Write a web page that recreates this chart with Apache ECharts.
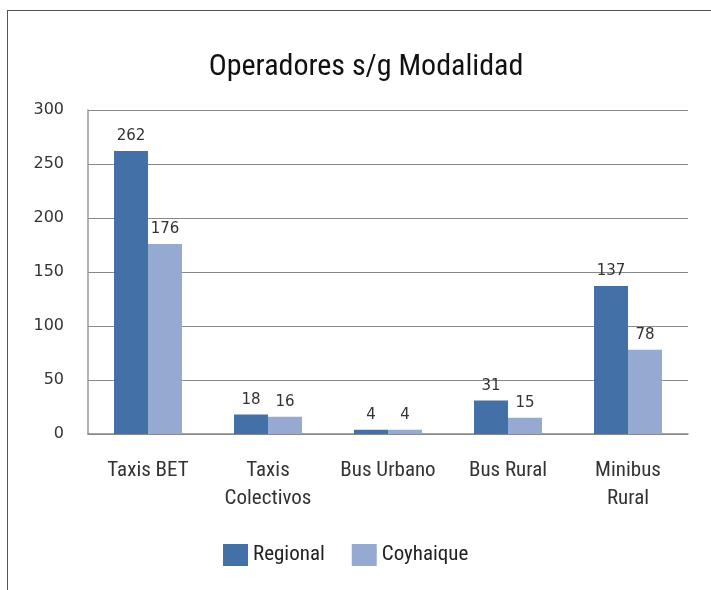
<!DOCTYPE html>
<html>
<head>
<meta charset="utf-8">
<script src="https://cdn.jsdelivr.net/npm/echarts@6/dist/echarts.min.js"></script>
<style>
    html, body { margin: 0; padding: 0; background: #fff; }
    .frame {
        position: absolute; left: 7px; top: 10px; width: 720px; height: 600px;
        border-left: 1px solid #555; border-top: 1px solid #555;
    }
    #chart { position: absolute; left: 0; top: 0; width: 711px; height: 590px; }
</style>
</head>
<body>
<div class="frame"></div>
<div id="chart"></div>
<script>
    var categories = ['Taxis BET', 'Taxis\nColectivos', 'Bus Urbano', 'Bus Rural', 'Minibus\nRural'];
    var regional = [262, 18, 4, 31, 137];
    var coyhaique = [176, 16, 4, 15, 78];
    var yTicks = [0, 50, 100, 150, 200, 250, 300];

    // condensed face, closest to the original's narrow font
    var narrow = 'Roboto Condensed, sans-serif';
    var chart = echarts.init(document.getElementById('chart'));
    var labelStyle = {
        show: true,
        position: 'top',
        fontFamily: 'DejaVu Sans',
        fontSize: 15,
        color: '#333',
        distance: 7
    };
    chart.setOption({
        animation: false,
        title: {
            text: 'Operadores s/g Modalidad',
            left: 361,
            top: 47,
            textAlign: 'center',
            textStyle: {
                fontFamily: narrow,
                fontWeight: 'normal',
                fontSize: 30,
                color: '#111'
            }
        },
        legend: {
            bottom: 19,
            left: 218,
            itemWidth: 25,
            itemHeight: 22,
            itemGap: 27,
            icon: 'rect',
            textStyle: {
                fontFamily: narrow,
                fontSize: 21,
                color: '#222'
            },
            data: ['Regional', 'Coyhaique']
        },
        grid: { left: 88, right: 23, top: 110, bottom: 156 },
        xAxis: {
            type: 'category',
            data: categories,
            axisTick: { show: false },
            axisLine: { lineStyle: { color: '#888', width: 1.5 } },
            axisLabel: {
                margin: 23,
                fontFamily: narrow,
                fontSize: 21,
                lineHeight: 28,
                color: '#333',
                interval: 0
            }
        },
        yAxis: {
            type: 'value',
            min: yTicks[0],
            max: yTicks[yTicks.length - 1],
            interval: 50,
            axisLine: { show: true, lineStyle: { color: '#999', width: 1.5 } },
            axisTick: { show: false },
            splitLine: { lineStyle: { color: '#888', width: 1 } },
            axisLabel: {
                margin: 24,
                fontFamily: 'DejaVu Sans',
                fontSize: 16,
                color: '#333'
            }
        },
        series: [{
            name: 'Regional',
            type: 'bar',
            data: regional,
            barWidth: 34,
            barGap: '0%',
            itemStyle: { color: '#4470A8' },
            label: labelStyle
        }, {
            name: 'Coyhaique',
            type: 'bar',
            data: coyhaique,
            barWidth: 34,
            itemStyle: { color: '#95A9D1' },
            label: labelStyle
        }]
    });
</script>
</body>
</html>
